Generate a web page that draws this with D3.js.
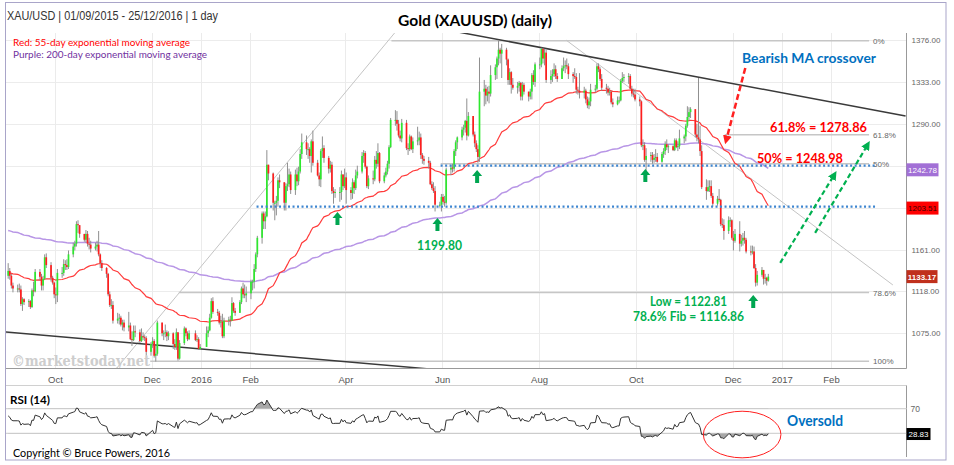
<!DOCTYPE html>
<html><head><meta charset="utf-8">
<script src="https://cdn.jsdelivr.net/npm/d3@7"></script>
<style>body{margin:0;background:#fff}svg{display:block}</style>
</head><body><svg id="c" width="954" height="465"></svg>
<script>
// ---------------- DATA (XAU/USD daily) ----------------
const startDate = "2015-09-01", endDate = "2016-12-23";
const holidays = ["2015-12-25", "2016-01-01"];
const firstOpen = 1134;
const closes = [
1139,1134,1124,1121,1121,1120,1105,1110,1107,1108,1102,1119,1118,1138,1133,1124,1131,1153,1145,1132,1127,1115,
1114,1137,1137,1146,1145,1143,1156,1164,1167,1187,1186,1177,1171,1177,1167,1166,1162,1164,1166,1156,1147,1142,
1136,1115,1104,1104,1088,1090,1091,1084,1086,1081,1083,1069,1068,1077,1076,1067,1072,1071,1070,1056,1064,
1067,1052,1054,1086,1075,1075,1076,1072,1075,1064,1061,1076,1049,1065,1080,1075,1069,1075,1068,1069,1059,1061,
1075,1078,1091,1108,1097,1096,1086,1087,1072,1088,1089,1088,1106,1098,1096,1107,1121,1115,1114,1116,
1128,1128,1141,1156,1173,1198,1190,1195,1248,1239,1209,1209,1211,1232,1230,1209,1226,1228,1238,1222,1238,
1231,1241,1259,1271,1264,1264,1257,1272,1250,1237,1233,1262,1265,1255,1244,1248,1221,1219,1220,1220,1238,1226,1235,
1222,1219,1230,1224,1237,1241,1257,1260,1246,1226,1234,1233,1253,1249,1260,1231,1237,1241,1249,1266,1294,
1294,1290,1278,1275,1291,1265,1264,1277,1264,1272,1273,1276,1258,1254,1252,1250,1228,1224,1221,1207,1207,1215,
1210,1209,1243,1245,1244,1262,1271,1276,1284,1286,1293,1278,1298,1279,1270,1264,1256,1323,1326,1319,1323,1321,
1340,1348,1357,1366,1362,1366,1356,1335,1343,1330,1327,1329,1332,1318,1330,1323,1318,1323,1340,1333,1351,
1351,1367,1357,1363,1335,1339,1341,1346,1339,1336,1347,1349,1350,1349,1341,1339,1338,1325,1324,1322,1324,1315,1309,
1313,1325,1326,1349,1346,1336,1327,1326,1322,1323,1312,1310,1314,1314,1334,1337,1338,1339,1326,1321,1320,1315,
1313,1268,1268,1253,1257,1258,1253,1255,1256,1251,1259,1262,1269,1266,1267,1263,1273,1266,1267,1275,1277,
1288,1297,1302,1305,1279,1276,1274,1262,1225,1221,1225,1226,1216,1208,1213,1212,1187,1186,1180,1191,1191,1173,
1170,1177,1167,1170,1173,1171,1159,1158,1159,1142,1127,1135,1140,1131,1132,1129,1133.17
];
const highs = [
1147,1142,1136,1127,1125,1126,1124,1112,1111,1110,1109,1121,1128,1141,1141,1136,1134,1156,1157,1148,1134,1128,
1122,1141,1143,1151,1150,1151,1160,1168,1170,1190,1191,1185,1176,1181,1180,1173,1170,1168,1170,1180,1157,1150,
1143,1137,1118,1110,1108,1096,1095,1093,1089,1089,1097,1086,1077,1083,1083,1079,1080,1076,1073,1072,1066,
1071,1069,1062,1088,1086,1078,1084,1078,1077,1076,1069,1080,1074,1068,1082,1081,1077,1078,1078,1073,1071,1064,
1082,1082,1095,1111,1112,1100,1098,1093,1095,1091,1092,1093,1112,1107,1101,1109,1123,1127,1125,1123,
1130,1130,1146,1158,1175,1200,1200,1200,1263,1248,1240,1211,1216,1235,1238,1227,1229,1250,1244,1241,1243,
1245,1246,1264,1280,1278,1270,1266,1274,1283,1253,1240,1264,1277,1268,1257,1252,1251,1225,1223,1225,1242,1238,1244,
1240,1225,1234,1232,1243,1247,1261,1263,1262,1247,1237,1242,1257,1262,1270,1261,1240,1245,1252,1268,1296,
1304,1303,1294,1283,1295,1294,1270,1279,1278,1276,1287,1282,1280,1260,1257,1256,1252,1231,1230,1226,1210,1218,
1218,1216,1245,1248,1249,1264,1273,1277,1287,1289,1294,1316,1302,1295,1282,1273,1268,1358,1335,1330,1328,1329,
1350,1351,1359,1375,1368,1372,1368,1357,1347,1344,1337,1333,1334,1333,1333,1332,1323,1326,1342,1345,1353,
1358,1368,1368,1367,1366,1345,1346,1352,1350,1342,1350,1358,1355,1357,1352,1343,1347,1342,1328,1342,1328,1326,1318,
1317,1331,1330,1352,1352,1348,1341,1331,1329,1327,1324,1316,1318,1318,1336,1343,1341,1342,1341,1329,1326,1326,
1318,1314,1274,1271,1265,1261,1261,1259,1264,1260,1261,1265,1272,1274,1269,1268,1275,1275,1272,1284,1279,
1290,1308,1307,1307,1295,1290,1337,1288,1268,1233,1232,1232,1232,1219,1216,1223,1213,1193,1192,1195,1194,1192,
1180,1182,1190,1176,1178,1180,1173,1165,1165,1164,1146,1139,1143,1140,1136,1133,1136
];
const lows = [
1131,1130,1121,1117,1117,1117,1103,1098,1104,1102,1100,1101,1113,1117,1129,1119,1119,1130,1142,1128,1125,1111,
1105,1107,1132,1134,1140,1140,1141,1153,1160,1164,1178,1173,1169,1168,1164,1161,1158,1160,1159,1154,1142,1139,
1132,1113,1102,1100,1085,1085,1084,1082,1078,1077,1077,1068,1062,1067,1071,1065,1066,1068,1067,1052,1052,
1060,1050,1046,1052,1072,1068,1071,1067,1068,1059,1058,1058,1047,1048,1063,1072,1067,1068,1067,1066,1058,1058,
1061,1071,1077,1090,1095,1093,1084,1081,1070,1070,1083,1082,1088,1096,1093,1096,1105,1111,1111,1107,
1110,1119,1121,1138,1153,1167,1182,1182,1194,1232,1201,1191,1196,1205,1224,1201,1201,1221,1225,1218,1217,
1226,1227,1239,1254,1258,1254,1250,1240,1247,1236,1226,1225,1255,1250,1239,1240,1218,1208,1214,1210,1212,1222,1224,
1208,1212,1213,1218,1222,1234,1239,1250,1244,1224,1223,1228,1231,1244,1246,1229,1229,1235,1238,1244,1265,
1288,1283,1276,1272,1271,1263,1258,1262,1263,1260,1268,1268,1254,1249,1248,1244,1227,1222,1219,1200,1204,1200,
1207,1205,1207,1237,1240,1241,1257,1264,1273,1278,1281,1273,1277,1277,1266,1261,1250,1251,1308,1310,1313,1311,
1318,1335,1336,1350,1352,1337,1350,1330,1330,1321,1325,1321,1323,1314,1314,1320,1313,1315,1315,1330,1328,
1346,1348,1352,1350,1332,1331,1333,1338,1336,1333,1336,1344,1342,1346,1336,1332,1336,1321,1320,1316,1316,1311,1306,
1305,1308,1322,1324,1343,1334,1324,1321,1319,1319,1310,1307,1309,1311,1313,1332,1333,1331,1325,1318,1317,1313,
1308,1266,1263,1251,1241,1251,1249,1250,1251,1250,1250,1255,1258,1263,1260,1262,1262,1265,1262,1264,1270,
1272,1286,1293,1296,1276,1272,1270,1257,1223,1212,1220,1220,1214,1205,1206,1210,1185,1183,1171,1177,1184,1171,
1160,1168,1159,1164,1165,1167,1157,1155,1156,1141,1123,1124,1133,1125,1126,1124,1128
];
// indicator starting states (from values before the window)
const ema55Seed = 1137, ema200Seed = 1181;
const rsiSeedGain = 5.5, rsiSeedLoss = 4.2;
// axis ticks
const priceTicks = [1075, 1118, 1161, 1204, 1247, 1290, 1333, 1376];
const monthTicks = ["2015-10-01","2015-12-01","2016-01-01","2016-02-01","2016-04-01","2016-06-01","2016-08-01","2016-10-01","2016-12-01","2017-01-01","2017-02-01"];
const monthLabels = ["Oct","Dec","2016","Feb","Apr","Jun","Aug","Oct","Dec","2017","Feb"];
// last-value labels
const ema200Last = 1242.78, ema55Last = 1203.51, closeLast = 1133.17, rsiLast = 28.83;
// fibonacci levels [label, price, start date]
const fibLabels = ["0%", "61.8%", "50%", "78.6%", "100%"];
const fibPrices = [1375.3, 1278.86, 1248.98, 1116.86, 1046.2];
const fibStarts = ["2016-04-30", "2016-11-26", "2016-05-31", "2015-12-18", "2015-11-30"];
const fibEnd = "2017-02-25";
// support lines (dotted) [price, start]
const supportPrices = [1247, 1205];
const supportStarts = ["2016-05-31", "2016-02-05"];
const supportEnd = "2017-03-01";
// trend lines [date1, price1, date2, price2]
const trendDark = [["2016-06-11", 1384.2, "2017-03-20", 1298], ["2015-08-31", 1076.3, "2016-05-24", 1038.4]];
const trendLight = [["2015-11-09", 1039.4, "2016-05-02", 1383.2], ["2016-08-18", 1376, "2017-03-12", 1124.6]];
// green support arrows [date, price at tip]
const arrowDates = ["2016-03-27", "2016-05-29", "2016-06-23", "2016-10-07", "2016-12-14"];
const arrowPrices = [1199.5, 1193.3, 1242.6, 1243.6, 1114.3];
// dashed arrows [date1, price1, date2, price2]
const redArrow = ["2016-12-09", 1347.3, "2016-11-27", 1273.4];
const greenArrows = [["2016-12-31", 1147.2, "2017-02-03", 1237.5], ["2017-01-22", 1178, "2017-02-24", 1268.3]];

// ---------------- CHART ----------------
const P = s => { const [a, b, c] = s.split("-").map(Number); return new Date(a, b - 1, c); };
const fmt = d3.timeFormat("%Y-%m-%d");
const dates = [];
for (let d = P(startDate); d <= P(endDate); d = new Date(d.getFullYear(), d.getMonth(), d.getDate() + 1)) {
  const w = d.getDay();
  if (w > 0 && w < 6 && !holidays.includes(fmt(d))) dates.push(d);
}
const n = Math.min(dates.length, closes.length, highs.length, lows.length);

const L = 6, R = 906.5, T = 33, B = 368.5;
const x = d3.scaleTime().domain([P("2015-10-01"), P("2017-02-01")]).range([55, 831]);
const y = d3.scaleLinear().domain([1075, 1376]).range([333.3, 40]);
const ry = d3.scaleLinear().domain([30, 70]).range([433.3, 408.7]);
const xc = d => x(d3.timeHour.offset(d, 12));

// derived series
const data = [];
let e55 = ema55Seed, e200 = ema200Seed, ag = rsiSeedGain, al = rsiSeedLoss;
for (let i = 0; i < n; i++) {
  const o = i ? closes[i - 1] : firstOpen, c = closes[i];
  e55 += (2 / 56) * (c - e55);
  e200 += (2 / 201) * (c - e200);
  const ch = c - o;
  ag = (ag * 13 + Math.max(ch, 0)) / 14;
  al = (al * 13 + Math.max(-ch, 0)) / 14;
  data.push({ d: dates[i], o, c, h: Math.max(highs[i], o, c), l: Math.min(lows[i], o, c), e55, e200, rsi: 100 - 100 / (1 + ag / al) });
}

const svg = d3.select("#c");
const defs = svg.append("defs");
[["ar", "#ff2020"], ["ag", "#00b050"]].forEach(([id, col]) => {
  defs.append("marker").attr("id", id).attr("viewBox", "0 0 10 10").attr("refX", 5).attr("refY", 5)
    .attr("markerWidth", 9).attr("markerHeight", 9).attr("markerUnits", "userSpaceOnUse").attr("orient", "auto")
    .append("path").attr("d", "M0,0L10,5L0,10z").attr("fill", col);
});
defs.append("clipPath").attr("id", "cp70").append("rect").attr("x", 0).attr("y", 380).attr("width", 954).attr("height", ry(70) - 380);
defs.append("clipPath").attr("id", "cp30").append("rect").attr("x", 0).attr("y", ry(30)).attr("width", 954).attr("height", 40);
defs.append("clipPath").attr("id", "plot").append("rect").attr("x", L).attr("y", T).attr("width", R - L).attr("height", B - T);

// grid
const grid = svg.append("g");
grid.selectAll(".hg").data(priceTicks).join("line").attr("x1", L).attr("x2", R)
  .attr("y1", d => Math.round(y(d)) + 0.5).attr("y2", d => Math.round(y(d)) + 0.5).attr("stroke", "#ececec");
grid.selectAll(".vg").data(monthTicks).join("line").attr("y1", T).attr("y2", B)
  .attr("x1", d => Math.round(x(P(d))) + 0.5).attr("x2", d => Math.round(x(P(d))) + 0.5).attr("stroke", "#ebebeb");

const plot = svg.append("g").attr("clip-path", "url(#plot)");
// fib lines
fibLabels.forEach((lab, i) => {
  plot.append("line").attr("x1", x(P(fibStarts[i]))).attr("x2", x(P(fibEnd)))
    .attr("y1", y(fibPrices[i])).attr("y2", y(fibPrices[i])).attr("stroke", "#c6c6c6").attr("stroke-width", 1.5);
  svg.append("text").attr("x", x(P(fibEnd)) + 4).attr("y", y(fibPrices[i]) + 3).text(lab)
    .attr("font-family", "Liberation Sans, Arial").attr("font-size", 8).attr("fill", "#666");
});
// light diagonal lines
trendLight.forEach(t => plot.append("line").attr("x1", x(P(t[0]))).attr("y1", y(t[1])).attr("x2", x(P(t[2]))).attr("y2", y(t[3]))
  .attr("stroke", "#c4c4c4").attr("stroke-width", 1));
// dark trend lines
trendDark.forEach(t => plot.append("line").attr("x1", x(P(t[0]))).attr("y1", y(t[1])).attr("x2", x(P(t[2]))).attr("y2", y(t[3]))
  .attr("stroke", "#3a3a3a").attr("stroke-width", 1.5));

// EMAs
plot.append("path").datum(data).attr("fill", "none").attr("stroke", "#b896e6").attr("stroke-width", 1.5)
  .attr("d", d3.line().x(d => xc(d.d)).y(d => y(d.e200)));
plot.append("path").datum(data).attr("fill", "none").attr("stroke", "#ff3b3b").attr("stroke-width", 1.2)
  .attr("d", d3.line().x(d => xc(d.d)).y(d => y(d.e55)));

// candles
const cg = plot.append("g");
cg.selectAll(".w").data(data).join("line").attr("x1", d => xc(d.d)).attr("x2", d => xc(d.d))
  .attr("y1", d => y(d.h)).attr("y2", d => y(d.l)).attr("stroke", "#8f8f8f").attr("stroke-width", 1);
cg.selectAll(".b").data(data).join("rect").attr("x", d => xc(d.d) - 0.85).attr("width", 1.7)
  .attr("y", d => y(Math.max(d.o, d.c))).attr("height", d => Math.max(1, Math.abs(y(d.o) - y(d.c))))
  .attr("fill", d => d.c >= d.o ? "#2ee82e" : "#ff1e1e");

// dotted support lines
supportPrices.forEach((p, i) => svg.append("line").attr("x1", x(P(supportStarts[i]))).attr("x2", x(P(supportEnd)))
  .attr("y1", y(p)).attr("y2", y(p)).attr("stroke", "#3d85d0").attr("stroke-width", 2.2).attr("stroke-dasharray", "2,2.5"));

// watermark
svg.append("text").attr("x", 12).attr("y", 366).text("©marketstoday.net").attr("font-family", "DejaVu Serif")
  .attr("font-weight", "bold").attr("font-size", 15).attr("fill", "#cdcdcd").attr("textLength", 138).attr("lengthAdjust", "spacingAndGlyphs");

// axes lines
svg.append("line").attr("x1", L).attr("x2", R).attr("y1", B).attr("y2", B).attr("stroke", "#999");
svg.append("line").attr("x1", R).attr("x2", R).attr("y1", T).attr("y2", B).attr("stroke", "#999");
// right price axis (tick labels hidden where a value box covers them)
const boxVals = [ema200Last, ema55Last, closeLast];
const shownTicks = priceTicks.filter(t => boxVals.every(v => Math.abs(y(v) - y(t)) > 11));
const ya = svg.append("g").attr("transform", `translate(${R},0)`)
  .call(d3.axisRight(y).tickValues(shownTicks).tickFormat(d3.format(".2f")).tickSize(0).tickPadding(5));
ya.select(".domain").remove();
ya.selectAll("text").attr("font-family", "Liberation Sans, Arial").attr("font-size", 8).attr("fill", "#666");
// bottom time axis
const xa = svg.append("g").attr("transform", `translate(0,${B})`)
  .call(d3.axisBottom(x).tickValues(monthTicks.map(P)).tickFormat((d, i) => monthLabels[i]).tickSize(0).tickPadding(8));
xa.select(".domain").remove();
xa.selectAll("text").attr("font-family", "Liberation Sans, Arial").attr("font-size", 9.5).attr("fill", "#555");

// value boxes
function box(v, fill, tc, w, bold) {
  const yy = y(v);
  svg.append("rect").attr("x", R).attr("y", yy - 6.5).attr("width", w).attr("height", 13).attr("fill", fill);
  svg.append("text").attr("x", R + w / 2).attr("y", yy + 3).attr("text-anchor", "middle").text(v.toFixed(2))
    .attr("font-family", "Liberation Sans, Arial").attr("font-size", 8).attr("font-weight", bold ? "bold" : "normal").attr("fill", tc);
}
box(ema200Last, "#a270d6", "#fff", 32, false);
box(ema55Last, "#ff0000", "#3a0000", 32, false);
box(closeLast, "#c0301c", "#fff", 31, true);

// RSI panel
svg.append("line").attr("x1", L).attr("x2", R).attr("y1", 385.5).attr("y2", 385.5).attr("stroke", "#d0d0d0");
svg.append("line").attr("x1", R).attr("x2", R).attr("y1", 385.5).attr("y2", 457).attr("stroke", "#999");
[70, 30].forEach(v => svg.append("line").attr("x1", L).attr("x2", R).attr("y1", ry(v)).attr("y2", ry(v)).attr("stroke", "#d4d4d4").attr("stroke-width", 1.2));
svg.append("path").datum(data).attr("clip-path", "url(#cp70)").attr("fill", "#a8a8a8")
  .attr("d", d3.area().x(d => xc(d.d)).y0(ry(70)).y1(d => ry(d.rsi)));
svg.append("path").datum(data).attr("clip-path", "url(#cp30)").attr("fill", "#a8a8a8")
  .attr("d", d3.area().x(d => xc(d.d)).y0(ry(30)).y1(d => ry(d.rsi)));
svg.append("path").datum(data).attr("fill", "none").attr("stroke", "#333").attr("stroke-width", 1)
  .attr("d", d3.line().x(d => xc(d.d)).y(d => ry(d.rsi)));
const ra = svg.append("g").attr("transform", `translate(${R},0)`)
  .call(d3.axisRight(ry).tickValues([70]).tickSize(0).tickPadding(4));
ra.select(".domain").remove();
ra.selectAll("text").attr("font-family", "Liberation Sans, Arial").attr("font-size", 8.5).attr("fill", "#666");
svg.append("rect").attr("x", R).attr("y", ry(rsiLast) - 6).attr("width", 24).attr("height", 12).attr("fill", "#000");
svg.append("text").attr("x", R + 12).attr("y", ry(rsiLast) + 3).attr("text-anchor", "middle").text(rsiLast.toFixed(2))
  .attr("font-family", "Liberation Sans, Arial").attr("font-size", 8).attr("fill", "#fff");
svg.append("ellipse").attr("cx", x(P("2016-12-07"))).attr("cy", ry(28)).attr("rx", 38.8).attr("ry", 23.3)
  .attr("fill", "none").attr("stroke", "#ff2020").attr("stroke-width", 1);

// green up arrows
arrowDates.forEach((dt, i) => {
  const tx = x(P(dt)), ty = y(arrowPrices[i]);
  svg.append("path").attr("fill", "#00a651")
    .attr("d", `M${tx},${ty}L${tx + 5},${ty + 6}L${tx + 2},${ty + 6}L${tx + 2},${ty + 13}L${tx - 2},${ty + 13}L${tx - 2},${ty + 6}L${tx - 5},${ty + 6}Z`);
});
// dashed arrows
svg.append("line").attr("x1", x(P(redArrow[0]))).attr("y1", y(redArrow[1])).attr("x2", x(P(redArrow[2]))).attr("y2", y(redArrow[3]))
  .attr("stroke", "#ff2020").attr("stroke-width", 2.5).attr("stroke-dasharray", "6,3").attr("marker-end", "url(#ar)");
greenArrows.forEach(a => svg.append("line").attr("x1", x(P(a[0]))).attr("y1", y(a[1])).attr("x2", x(P(a[2]))).attr("y2", y(a[3]))
  .attr("stroke", "#00b050").attr("stroke-width", 2.2).attr("stroke-dasharray", "5,3").attr("marker-end", "url(#ag)"));

// texts
function txt(s, X, Y, o) {
  const t = svg.append("text").attr("x", X).attr("y", Y).text(s)
    .attr("font-family", o.ff || "Lato, 'Noto Sans', sans-serif").attr("font-size", o.fs).attr("fill", o.fill || "#000")
    .attr("font-weight", o.fw || "normal");
  if (o.tl) t.attr("textLength", o.tl).attr("lengthAdjust", "spacingAndGlyphs");
  return t;
}
txt("XAU/USD | 01/09/2015 - 25/12/2016 | 1 day", 7, 19.5, { ff: "Liberation Sans, Arial", fs: 12.5, fill: "#333", tl: 211 });
txt("Red: 55-day exponential moving average", 13, 45.5, { fs: 10, fill: "#ff0000", tl: 177 });
txt("Purple: 200-day exponential moving average", 13, 57.5, { fs: 10, fill: "#7030a0", tl: 194 });
txt("Gold (XAUUSD) (daily)", 398, 26, { fs: 15, fw: "bold", tl: 154 });
txt("Bearish MA crossover", 742, 63, { fs: 14, fw: "bold", fill: "#0070c0", tl: 134 });
txt("61.8%  = 1278.86", 770, y(1278.86) - 3, { fs: 14, fw: "bold", fill: "#ff0000", tl: 97 });
txt("50% = 1248.98", 757, y(1248.98) - 1, { fs: 14, fw: "bold", fill: "#ff0000", tl: 86 });
txt("1199.80", 417, 250, { fs: 13, fw: "bold", fill: "#00b050", tl: 45 });
txt("Low = 1122.81", 650, 306, { fs: 13, fw: "bold", fill: "#00b050", tl: 77 });
txt("78.6% Fib  = 1116.86", 633, 321, { fs: 13, fw: "bold", fill: "#00b050", tl: 111 });
txt("RSI (14)", 10, 403.5, { fs: 12, fw: "bold", tl: 40 });
txt("Oversold", 787, 426, { fs: 15, fw: "bold", fill: "#0070c0", tl: 56 });
txt("Copyright © Bruce Powers, 2016", 13, 457, { fs: 12, tl: 157 });

// outer frame
svg.append("rect").attr("x", 5.5).attr("y", 2.5).attr("width", 940.5).attr("height", 457.5).attr("fill", "none").attr("stroke", "#a9a5c9");
</script></body></html>
